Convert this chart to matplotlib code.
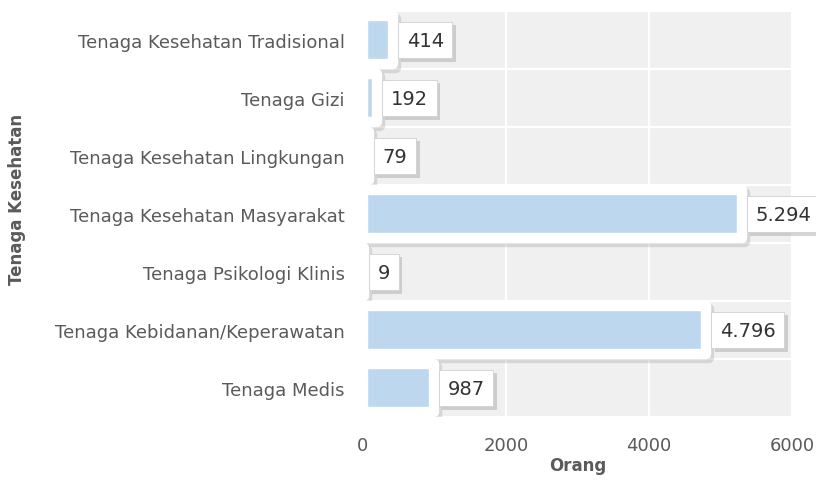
import matplotlib
matplotlib.use("Agg")
import matplotlib.pyplot as plt
import matplotlib.patheffects as pe

categories = ["Tenaga Kesehatan Tradisional", "Tenaga Gizi", "Tenaga Kesehatan Lingkungan",
              "Tenaga Kesehatan Masyarakat", "Tenaga Psikologi Klinis",
              "Tenaga Kebidanan/Keperawatan", "Tenaga Medis"]
values = [414, 192, 79, 5294, 9, 4796, 987]
xticks = [0, 2000, 4000, 6000]

plt.rcParams['font.family'] = ['DejaVu Sans']
TXT = '#5a5a5a'

fig = plt.figure(figsize=(8.16, 4.81), dpi=100)
ax = fig.add_axes([363/816, 1-418/481, (792-363)/816, (418-12)/481])
ax.set_facecolor('#f0f0f0')
for s in ax.spines.values():
    s.set_visible(False)

ypos = list(range(len(categories)))
ax.set_xlim(0, 6000)
ax.set_ylim(len(categories)-0.5, -0.5)

for x in xticks:
    ax.axvline(x, color='white', lw=1.6, zorder=0.5)
for k in range(len(categories)+1):
    ax.axhline(k-0.5, color='white', lw=1.6, zorder=0.5)

bars = ax.barh(ypos, values, height=0.83, color='#bdd7ee', edgecolor='white',
               linewidth=7.5, zorder=2)
for b in bars:
    b.set_joinstyle('round')
    b.set_path_effects([
        pe.SimplePatchShadow(offset=(2.5, -2.5), shadow_rgbFace='0.6', alpha=0.3,
                             foreground='0.6', linewidth=7.5),
        pe.Normal()])

for y, v in zip(ypos, values):
    lab = f"{v:,}".replace(",", ".")
    t = ax.annotate(lab, xy=(v, y), xytext=(14, 0), textcoords='offset pixels',
                    ha='left', va='center', fontsize=14, color='#333333', zorder=5,
                    bbox=dict(boxstyle='square,pad=0.45', fc='white', ec='#d0d0d0', lw=0.6))
    t.get_bbox_patch().set_path_effects([
        pe.SimplePatchShadow(offset=(2.5, -2.5), shadow_rgbFace='0.55', alpha=0.35),
        pe.Normal()])

ax.set_yticks(ypos)
ax.set_yticklabels(categories, fontsize=13, color=TXT)
ax.set_xticks(xticks)
ax.set_xticklabels([str(x) for x in xticks], fontsize=13, color=TXT)
ax.tick_params(axis='both', length=0)
ax.tick_params(axis='y', pad=13)
ax.tick_params(axis='x', pad=14)

ax.set_xlabel("Orang", fontsize=12, fontweight='bold', color=TXT, labelpad=1)
fig.text(17/816, 1-199/481, "Tenaga Kesehatan", rotation=90, fontsize=12,
         fontweight='bold', color=TXT, ha='center', va='center')

fig.savefig("out.png", dpi=100)
